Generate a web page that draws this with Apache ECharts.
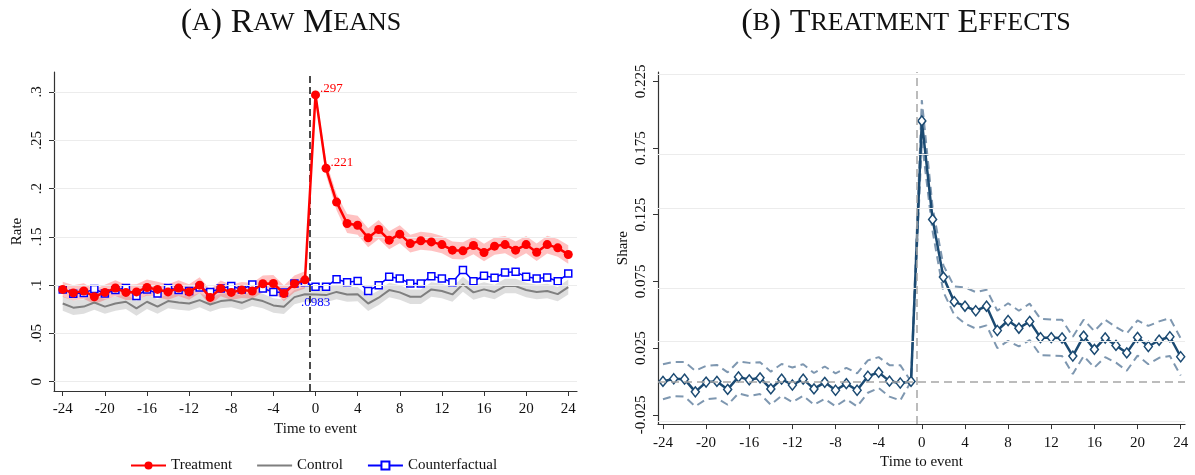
<!DOCTYPE html>
<html><head><meta charset="utf-8">
<script src="https://cdn.jsdelivr.net/npm/echarts@6/dist/echarts.min.js"></script>
<style>html,body{margin:0;padding:0;background:#fff}#c{width:1195px;height:475px}</style>
</head><body><div id="c"></div>
<script>
// ---------- data ----------
const eventTime = [-24,-23,-22,-21,-20,-19,-18,-17,-16,-15,-14,-13,-12,-11,-10,-9,-8,-7,-6,-5,-4,-3,-2,-1,
  0,1,2,3,4,5,6,7,8,9,10,11,12,13,14,15,16,17,18,19,20,21,22,23,24];
const xTicks = [-24,-20,-16,-12,-8,-4,0,4,8,12,16,20,24];
const rateTicks = [0,0.05,0.1,0.15,0.2,0.25,0.3];
const shareTicks = [-0.025,0.025,0.075,0.125,0.175,0.225];
const eventLine = [-0.5];

// Panel A: raw means
const treatment = [0.0956,0.092,0.094,0.088,0.0925,0.097,0.0925,0.093,0.0976,0.0956,0.093,0.097,0.093,0.100,0.0873,0.0966,0.0925,0.095,0.094,0.1014,0.1017,0.0914,0.1014,0.1055,
  0.297,0.221,0.186,0.1638,0.162,0.149,0.1576,0.1466,0.1528,0.143,0.146,0.1448,0.142,0.1362,0.1355,0.141,0.1338,0.1404,0.142,0.1362,0.142,0.134,0.142,0.1386,0.1317];
const treatmentHalfCI = [0.0078,0.0078,0.008,0.0078,0.008,0.0082,0.008,0.008,0.0082,0.008,0.008,0.0082,0.008,0.0082,0.008,0.0082,0.008,0.0082,0.0082,0.0087,0.0089,0.0082,0.0087,0.009,
  0.006,0.007,0.0085,0.0098,0.0098,0.0098,0.0098,0.0093,0.0093,0.0093,0.0093,0.0092,0.009,0.009,0.009,0.009,0.009,0.009,0.009,0.009,0.009,0.009,0.0092,0.0092,0.0095];
const control = [0.081,0.0767,0.0778,0.082,0.0778,0.081,0.0828,0.076,0.0828,0.0778,0.0835,0.082,0.081,0.0845,0.080,0.0835,0.0845,0.0817,0.086,0.0835,0.079,0.0776,0.0876,0.0905,
  0.0904,0.0897,0.093,0.0904,0.0907,0.081,0.087,0.0949,0.0925,0.088,0.088,0.0956,0.094,0.0904,0.101,0.0925,0.0956,0.093,0.099,0.099,0.095,0.093,0.094,0.0907,0.098];
const controlHalfCI = [0.0075,0.0075,0.0075,0.0075,0.0075,0.0075,0.0075,0.0078,0.0075,0.0075,0.0075,0.0075,0.0075,0.0075,0.0075,0.0075,0.0075,0.0075,0.0075,0.0075,0.0075,0.0075,0.0075,0.0075,
  0.0075,0.0075,0.0075,0.0075,0.0075,0.0078,0.0075,0.0075,0.0075,0.0075,0.0075,0.0075,0.0075,0.0075,0.0078,0.0075,0.0075,0.0075,0.0075,0.0075,0.0075,0.0075,0.0075,0.0075,0.0078];
const counterfactual = [0.0956,0.091,0.092,0.0959,0.0914,0.095,0.097,0.0887,0.0956,0.0914,0.097,0.095,0.094,0.0976,0.093,0.0966,0.099,0.0956,0.1007,0.0966,0.093,0.0925,0.1018,0.103,
  0.0983,0.0983,0.1062,0.1031,0.1042,0.094,0.100,0.1086,0.107,0.1017,0.1017,0.1093,0.107,0.103,0.1156,0.104,0.1097,0.1076,0.1131,0.1138,0.1086,0.107,0.108,0.104,0.112];
const treatmentNotes = {0: '.297', 1: '.221'};
const counterfactualNotes = {0: '.0983'};

// Panel B: treatment effects
const effect = [0,0.002,0.0017,-0.0078,-0.0005,0,-0.006,0.0034,0.0012,0.0027,-0.0056,0.0017,-0.0027,0.0017,-0.0056,-0.0007,-0.0066,-0.0017,-0.0066,0.0039,0.0068,0.0002,-0.0012,0,
  0.1953,0.1215,0.0782,0.0598,0.0564,0.053,0.0564,0.0382,0.0457,0.0399,0.045,0.0328,0.0328,0.0326,0.019,0.034,0.024,0.0326,0.027,0.0214,0.033,0.0262,0.0309,0.0335,0.0185];
const effectUpper = [0.0129,0.0146,0.0146,0.008,0.0117,0.0124,0.0068,0.015,0.0139,0.0143,0.0073,0.0131,0.0104,0.0129,0.0063,0.0112,0.0061,0.0102,0.0061,0.0158,0.0182,0.0122,0.0122,0,
  0.211,0.1305,0.087,0.0712,0.0705,0.067,0.0688,0.053,0.0586,0.053,0.0583,0.0469,0.0464,0.0462,0.0335,0.0462,0.0377,0.0462,0.0408,0.036,0.0457,0.0416,0.045,0.0474,0.0323];
const effectLower = [-0.0134,-0.011,-0.0114,-0.0187,-0.0134,-0.0126,-0.0175,-0.009,-0.011,-0.0095,-0.0175,-0.0107,-0.0156,-0.0107,-0.0175,-0.0131,-0.0187,-0.0134,-0.0187,-0.0085,-0.0049,-0.0114,-0.0143,0,
  0.18,0.1125,0.067,0.050,0.0433,0.0396,0.042,0.025,0.0304,0.0262,0.031,0.0197,0.0194,0.019,0.0056,0.019,0.0104,0.0182,0.0141,0.008,0.0194,0.0129,0.0177,0.019,0.0044];

// ---------- styling ----------
const FONT = 'Liberation Serif';
const AXIS_COLOR = '#333';
const GRID_COLOR = '#ececec';
const pairs = arr => eventTime.map((t, i) => [t, arr[i]]);

function band(idx, lo, hi, fill) {
  return {
    type: 'custom', xAxisIndex: idx, yAxisIndex: idx, z: 1, silent: true,
    data: eventTime.map((t, i) => [t, lo[i], hi[i]]),
    encode: {x: 0, y: [1, 2]},
    renderItem(params, api) {
      if (params.dataIndex !== 0) return null;
      const top = eventTime.map((t, i) => api.coord([t, hi[i]]));
      const bot = eventTime.map((t, i) => api.coord([t, lo[i]])).reverse();
      return {type: 'polygon', shape: {points: top.concat(bot)}, style: {fill: fill}};
    }
  };
}
function gridLines(idx, ticks) {
  return {
    type: 'line', xAxisIndex: idx, yAxisIndex: idx, z: 0, silent: true,
    data: [], symbol: 'none',
    markLine: {silent: true, symbol: ['none', 'none'], label: {show: false},
      lineStyle: {color: GRID_COLOR, width: 1.2, type: 'solid'},
      data: ticks.map(v => ({yAxis: v}))}
  };
}
function refLine(idx, key, vals, color, width, dash, z) {
  return {
    type: 'line', xAxisIndex: idx, yAxisIndex: idx, z: z, silent: true,
    data: [], symbol: 'none',
    markLine: {silent: true, symbol: ['none', 'none'], label: {show: false},
      lineStyle: {color: color, width: width, type: dash},
      data: vals.map(v => ({[key]: v}))}
  };
}
function xAxisDef(idx, gap, minV, maxV) {
  return {
    type: 'value', gridIndex: idx, min: minV, max: maxV,
    name: 'Time to event', nameLocation: 'middle', nameGap: gap,
    nameTextStyle: {fontFamily: FONT, fontSize: 15, color: '#111'},
    axisLine: {show: true, onZero: false, lineStyle: {color: AXIS_COLOR, width: 1.2}},
    axisTick: {show: true, length: 5, customValues: xTicks, lineStyle: {color: AXIS_COLOR}},
    axisLabel: {customValues: xTicks, margin: 11, fontFamily: FONT, fontSize: 15, color: '#111'},
    splitLine: {show: false}
  };
}
function yAxisDef(idx, name, gap, minV, maxV, ticks, fmt) {
  return {
    type: 'value', gridIndex: idx, min: minV, max: maxV,
    name: name, nameLocation: 'middle', nameGap: gap, nameRotate: 90,
    nameTextStyle: {fontFamily: FONT, fontSize: 15, color: '#111'},
    axisLine: {show: true, onZero: false, lineStyle: {color: AXIS_COLOR, width: 1.2}},
    axisTick: {show: true, length: 5, customValues: ticks, lineStyle: {color: AXIS_COLOR}},
    axisLabel: {customValues: ticks, rotate: 90, margin: 9, fontFamily: FONT, fontSize: 15, color: '#111', formatter: fmt},
    splitLine: {show: false}
  };
}

const treatLo = treatment.map((v, i) => v - treatmentHalfCI[i]);
const treatHi = treatment.map((v, i) => v + treatmentHalfCI[i]);
const ctrlLo = control.map((v, i) => v - controlHalfCI[i]);
const ctrlHi = control.map((v, i) => v + controlHalfCI[i]);

const titleRich = {
  L: {fontFamily: FONT, fontSize: 34, fontWeight: 'normal', color: '#111'},
  S: {fontFamily: FONT, fontSize: 26, fontWeight: 'normal', color: '#111'}
};

const option = {
  animation: false,
  backgroundColor: '#fff',
  title: [
    {text: '{L|(}{S|A}{L|) R}{S|AW}{L| M}{S|EANS}', left: 286, top: 1, textAlign: 'center',
     textStyle: {fontWeight: 'normal', rich: titleRich}},
    {text: '{L|(}{S|B}{L|) T}{S|REATMENT}{L| E}{S|FFECTS}', left: 901, top: 1, textAlign: 'center',
     textStyle: {fontWeight: 'normal', rich: titleRich}}
  ],
  legend: {
    data: [
      {name: 'Treatment'},
      {name: 'Control', itemStyle: {opacity: 0}},
      {name: 'Counterfactual'}
    ],
    left: 125, top: 453, itemWidth: 35, itemHeight: 10, itemGap: 24,
    textStyle: {fontFamily: FONT, fontSize: 15, color: '#111'}
  },
  grid: [
    {left: 54, top: 72, width: 523, height: 319, containLabel: false},
    {left: 658, top: 72, width: 527, height: 363, containLabel: false}
  ],
  xAxis: [xAxisDef(0, 31, -24.83, 24.83), xAxisDef(1, 25, -24.46, 24.4)],
  yAxis: [
    yAxisDef(0, 'Rate', 29, -0.0096, 0.3207, rateTicks, v => v === 0 ? '0' : String(+v.toFixed(3)).replace(/^0\./, '.')),
    yAxisDef(1, 'Share', 27, -0.032, 0.232, shareTicks, v => v.toFixed(3))
  ],
  series: [
    gridLines(0, rateTicks),
    gridLines(1, shareTicks),
    band(0, ctrlLo, ctrlHi, 'rgba(190,190,190,0.5)'),
    band(0, treatLo, treatHi, 'rgba(255,80,80,0.35)'),
    {
      name: 'Control', type: 'line', xAxisIndex: 0, yAxisIndex: 0, z: 3,
      data: pairs(control), symbol: 'none', showSymbol: false,
      lineStyle: {color: '#7f7f7f', width: 2}, itemStyle: {color: '#7f7f7f'}
    },
    {
      name: 'Counterfactual', type: 'line', xAxisIndex: 0, yAxisIndex: 0, z: 4,
      data: pairs(counterfactual).map((p, i) => counterfactualNotes[eventTime[i]] ? {
        value: p, label: {show: true, formatter: counterfactualNotes[eventTime[i]], position: 'bottom', distance: 5,
          color: '#0000ff', fontFamily: FONT, fontSize: 13}} : p),
      symbol: 'rect', symbolSize: 7, showAllSymbol: true,
      lineStyle: {color: '#0000ff', width: 1.5},
      itemStyle: {color: '#ffffff', borderColor: '#0000ff', borderWidth: 1.5}
    },
    {
      name: 'Treatment', type: 'line', xAxisIndex: 0, yAxisIndex: 0, z: 5,
      data: pairs(treatment).map((p, i) => treatmentNotes[eventTime[i]] ? {
        value: p, label: {show: true, formatter: treatmentNotes[eventTime[i]], position: [9, -8],
          color: '#ff0000', fontFamily: FONT, fontSize: 13}} : p),
      symbol: 'circle', symbolSize: 9, showAllSymbol: true,
      lineStyle: {color: '#ff0000', width: 2.5},
      itemStyle: {color: '#ff0000'}
    },
    refLine(0, 'xAxis', eventLine, '#111', 1.5, [7, 4], 6),
    // Panel B
    refLine(1, 'yAxis', [0], '#a6a6a6', 1.5, [8, 5], 1),
    refLine(1, 'xAxis', eventLine, '#a6a6a6', 1.5, [8, 5], 1),
    {
      name: 'Upper', type: 'line', xAxisIndex: 1, yAxisIndex: 1, z: 3, silent: true,
      data: pairs(effectUpper), symbol: 'none',
      lineStyle: {color: '#7e97b0', width: 2, type: [8, 5]}
    },
    {
      name: 'Lower', type: 'line', xAxisIndex: 1, yAxisIndex: 1, z: 3, silent: true,
      data: pairs(effectLower), symbol: 'none',
      lineStyle: {color: '#7e97b0', width: 2, type: [8, 5]}
    },
    {
      name: 'Effect', type: 'line', xAxisIndex: 1, yAxisIndex: 1, z: 4,
      data: pairs(effect), symbol: 'diamond', symbolSize: [8, 10], showAllSymbol: true,
      lineStyle: {color: '#1b4a72', width: 2.5},
      itemStyle: {color: '#ffffff', borderColor: '#1b4a72', borderWidth: 1.5}
    }
  ]
};

const chart = echarts.init(document.getElementById('c'), null, {renderer: 'canvas'});
chart.setOption(option);
</script>
</body></html>
